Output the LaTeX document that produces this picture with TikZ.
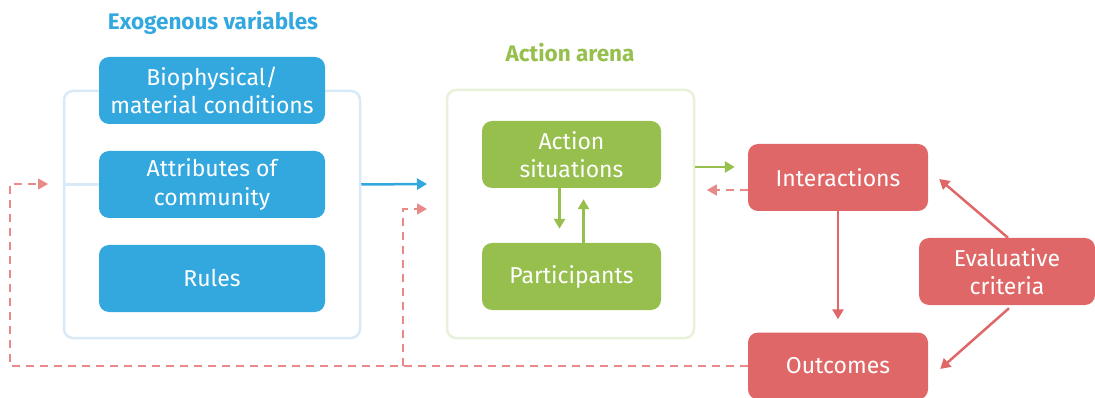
\documentclass[tikz,border=0pt]{standalone}
\usepackage{fontspec}
\setmainfont{Fira Sans}
\usepackage{tikz}
\usetikzlibrary{arrows.meta}

\definecolor{exoblue}{HTML}{33A8DF}
\definecolor{exoframe}{HTML}{D8EAF8}
\definecolor{arenagreen}{HTML}{97BF4D}
\definecolor{arenaframe}{HTML}{E8F1DA}
\definecolor{outred}{HTML}{E06767}
\definecolor{dashred}{HTML}{E88A8A}

\begin{document}
\begin{tikzpicture}[x=1pt,y=-1pt,
    box/.style={rounded corners=10pt,text=white,align=center,font=\fontsize{23}{28.5}\selectfont,inner sep=0pt},
    frame/.style={draw,rounded corners=9pt,line width=2.5pt,inner sep=0pt},
    flow/.style={line width=2.5pt,-{Triangle[length=10pt,width=11pt]}},
    feedback/.style={dashred,line width=1.5pt,dash pattern=on 8pt off 6pt,-{Triangle[length=10pt,width=11pt]}}]
            % bounding box
            \useasboundingbox (0,0) rectangle (1095,398);

            % titles
            \node[exoblue,font=\fontsize{22.5}{27}\selectfont\bfseries] (exotitle) at (213,23) {Exogenous variables};
            \node[arenagreen,font=\fontsize{22.5}{27}\selectfont\bfseries] (arenatitle) at (570,53) {Action arena};

            % exogenous variables
            \node[frame,draw=exoframe,minimum width=296pt,minimum height=247pt] (exo) at (212,214.5) {};
            \node[box,fill=exoblue,minimum width=226pt,minimum height=67pt] (bio) at (212,90.5) {Biophysical/\\material conditions};
            \node[box,fill=exoblue,minimum width=226pt,minimum height=67pt] (attr) at (212,184.5) {Attributes of\\community};
            \node[box,fill=exoblue,minimum width=226pt,minimum height=67pt] (rules) at (212,278.5) {Rules};
            \draw[exoframe,line width=2.5pt] (exo.west |- attr.west) -- (attr.west);

            % action arena
            \node[frame,draw=arenaframe,minimum width=247pt,minimum height=248pt] (arena) at (570.5,214) {};
            \node[box,fill=arenagreen,minimum width=179pt,minimum height=67pt] (sit) at (571.5,154.5) {Action\\situations};
            \node[box,fill=arenagreen,minimum width=179pt,minimum height=67pt] (part) at (571.5,276.5) {Participants};
            \draw[flow,arenagreen,shorten >=14pt] ([xshift=-12pt]sit.south) -- ([xshift=-12pt]part.north);
            \draw[flow,arenagreen,shorten >=11pt] ([xshift=12pt]part.north) -- ([xshift=12pt]sit.south);

            % outcomes side
            \node[box,fill=outred,minimum width=180pt,minimum height=67pt] (inter) at (838,177.5) {Interactions};
            \node[box,fill=outred,minimum width=180pt,minimum height=67pt] (outc) at (838,366) {Outcomes};
            \node[box,fill=outred,minimum width=176pt,minimum height=67pt] (eval) at (1007,271.5) {Evaluative\\criteria};

            % flows
            \coordinate (exoin) at (427,184);
            \draw[flow,exoblue] (exo.east |- attr) -- (exoin);
            \draw[flow,arenagreen] ([yshift=10.5pt]arena.east |- inter.west) -- ([xshift=-13pt,yshift=10.5pt]inter.west);
            \draw[flow,outred,shorten >=13pt] (inter.south) -- (outc.north);
            \draw[flow,outred] ([xshift=1pt]eval.north) -- ([xshift=11pt,yshift=-1.5pt]inter.east);
            \draw[flow,outred] ([xshift=2pt,yshift=-3pt]eval.south) -- ([xshift=12pt,yshift=-3pt]outc.east);

            % feedback
            \coordinate (fbleft) at (10,184);
            \coordinate (fbexo) at (48,184);
            \coordinate (split) at (403,366);
            \coordinate (fbarena) at (427,209);
            \draw[feedback] (outc.west) -| (fbleft) -- (fbexo);
            \draw[feedback] (split) |- (fbarena);
            \draw[feedback] ([yshift=-12.5pt]inter.west) -- ([xshift=-41pt,yshift=-12.5pt]inter.west);
\end{tikzpicture}
\end{document}
